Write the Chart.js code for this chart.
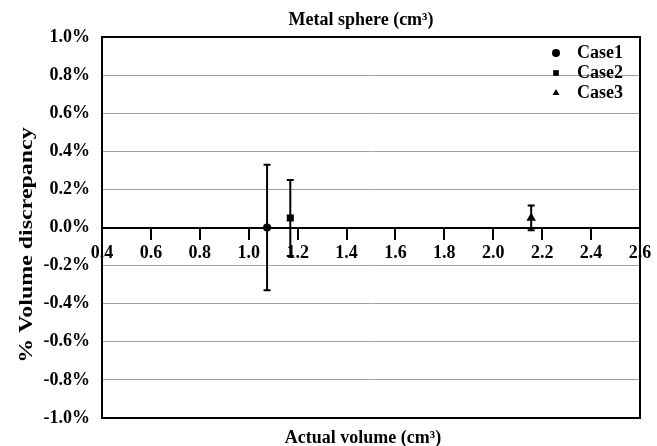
<!DOCTYPE html>
<html>
<head>
<meta charset="utf-8">
<script src="https://cdn.jsdelivr.net/npm/chart.js@4/dist/chart.umd.min.js"></script>
<style>
  html, body { margin: 0; padding: 0; background: #fff; }
  #wrap { width: 657px; height: 446px; }
</style>
</head>
<body>
<div id="wrap"><canvas id="c"></canvas></div>
<script>
// values (x in cm3, y in %)
var caseNames = ['Case1', 'Case2', 'Case3'];
var actualVolume = [1.075, 1.17, 2.155];
var discrepancy = [0.0, 0.05, 0.05];
var errorRange = [0.33, 0.2, 0.065];
var pointStyles = ['circle', 'rect', 'triangle'];
var pointSizes = [4, 5, 5.5];

var xMin = 0.4, xMax = 2.6, xStep = 0.2;
var yMin = -1.0, yMax = 1.0, yStep = 0.2;

var FONT = '"Liberation Serif", "Times New Roman", serif';

var datasets = [];
for (var i = 0; i < caseNames.length; i++) {
  datasets.push({
    label: caseNames[i],
    data: [{x: actualVolume[i], y: discrepancy[i]}],
    pointStyle: pointStyles[i],
    pointRadius: pointSizes[i],
    pointHoverRadius: pointSizes[i],
    backgroundColor: '#000',
    borderColor: '#000',
    borderWidth: 0,
    errPlusMinus: errorRange[i]
  });
}

// error bars, through the chart scales
var errorBars = {
  id: 'errorBars',
  beforeDatasetsDraw: function(chart) {
    var ctx = chart.ctx, xs = chart.scales.x, ys = chart.scales.y;
    ctx.save();
    ctx.strokeStyle = '#000';
    ctx.lineWidth = 2;
    chart.data.datasets.forEach(function(ds) {
      ds.data.forEach(function(p) {
        var px = xs.getPixelForValue(p.x);
        var top = ys.getPixelForValue(p.y + ds.errPlusMinus);
        var bot = ys.getPixelForValue(p.y - ds.errPlusMinus);
        ctx.beginPath();
        ctx.moveTo(px, top); ctx.lineTo(px, bot);
        ctx.moveTo(px - 3.5, top); ctx.lineTo(px + 3.5, top);
        ctx.moveTo(px - 3.5, bot); ctx.lineTo(px + 3.5, bot);
        ctx.stroke();
      });
    });
    ctx.restore();
  }
};

// frame, legend inside the plot and the titles
var decorations = {
  id: 'decorations',
  afterDraw: function(chart) {
    var ctx = chart.ctx, a = chart.chartArea;
    ctx.save();
    ctx.strokeStyle = '#000';
    ctx.lineWidth = 2;
    ctx.strokeRect(a.left, a.top, a.right - a.left, a.bottom - a.top);

    ctx.fillStyle = '#000';
    ctx.font = 'bold 18px ' + FONT;
    ctx.textBaseline = 'middle';
    ctx.textAlign = 'left';
    chart.data.datasets.forEach(function(ds, k) {
      var ly = 53 + k * 20;
      Chart.helpers.drawPoint(ctx, {pointStyle: ds.pointStyle, radius: 4, rotation: 0, borderWidth: 0}, 556, ly);
      ctx.fillText(ds.label, 577, ly);
    });

    ctx.textBaseline = 'alphabetic';
    ctx.textAlign = 'center';
    ctx.fillText('Metal sphere (cm\u00b3)', 361, 25);
    ctx.fillText('Actual volume (cm\u00b3)', 363, 443);

    // the y title is stretched along its length in the reference
    ctx.translate(32, 245);
    ctx.rotate(-Math.PI / 2);
    ctx.scale(1.33, 1);
    ctx.fillText('% Volume discrepancy', 0, 0);
    ctx.restore();
  }
};

new Chart(document.getElementById('c'), {
  type: 'scatter',
  data: { datasets: datasets },
  options: {
    responsive: true,
    maintainAspectRatio: false,
    animation: false,
    layout: { padding: { left: 0, top: 37, right: 17, bottom: 28 } },
    plugins: { legend: { display: false }, tooltip: { enabled: false } },
    scales: {
      x: {
        type: 'linear',
        position: { y: 0 },
        min: xMin, max: xMax,
        ticks: {
          stepSize: xStep,
          color: '#000',
          padding: 4,
          maxRotation: 0,
          font: { family: FONT, size: 18, weight: 'bold' },
          callback: function(v) { return v.toFixed(1); }
        },
        grid: { drawOnChartArea: false, drawTicks: true, tickLength: 11, color: '#000', lineWidth: 2 },
        border: { display: true, color: '#000', width: 2 }
      },
      y: {
        type: 'linear',
        position: 'left',
        min: yMin, max: yMax,
        afterFit: function(s) { s.width = 102; },
        ticks: {
          stepSize: yStep,
          color: '#000',
          padding: 12,
          font: { family: FONT, size: 18, weight: 'bold' },
          callback: function(v) { return v.toFixed(1) + '%'; }
        },
        grid: {
          drawTicks: false,
          color: function(c) { return c.tick && Math.abs(c.tick.value) < 1e-9 ? '#000' : '#a0a0a0'; },
          lineWidth: function(c) { return c.tick && Math.abs(c.tick.value) < 1e-9 ? 2 : 1; }
        },
        border: { display: true, color: '#000', width: 2 }
      }
    }
  },
  plugins: [errorBars, decorations]
});
</script>
</body>
</html>
